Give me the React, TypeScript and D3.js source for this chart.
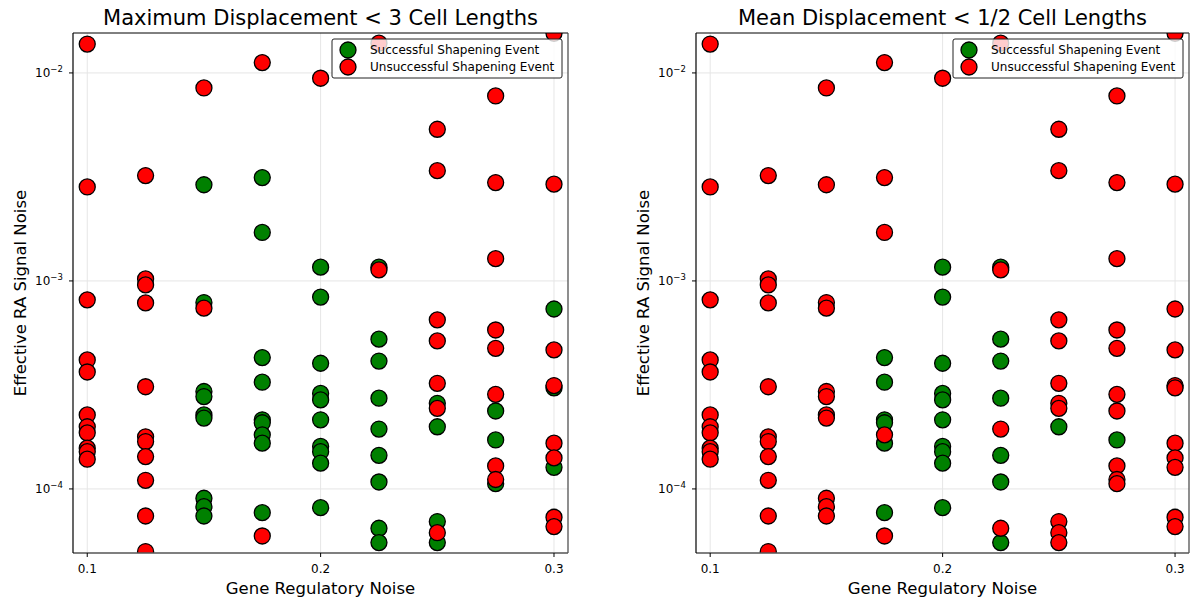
import React from "react";
import * as d3 from "d3";

// gene regulatory noise levels (x) and the RA signal noise values measured at each
const geneNoise = [0.1, 0.125, 0.15, 0.175, 0.2, 0.225, 0.25, 0.275, 0.3];

const signalNoise: number[][] = [
  [0.01377, 2.83e-3, 8.11e-4, 4.17e-4, 3.65e-4, 2.27e-4, 1.99e-4, 1.86e-4, 1.57e-4, 1.51e-4, 1.39e-4],
  [3.21e-3, 1.023e-3, 9.57e-4, 7.84e-4, 3.1e-4, 1.78e-4, 1.69e-4, 1.43e-4, 1.1e-4, 7.41e-5, 5.0e-5],
  [8.47e-3, 2.9e-3, 7.87e-4, 7.4e-4, 2.94e-4, 2.78e-4, 2.27e-4, 2.19e-4, 9.02e-5, 8.22e-5, 7.41e-5],
  [0.01121, 3.14e-3, 1.71e-3, 4.28e-4, 3.26e-4, 2.15e-4, 2.08e-4, 1.82e-4, 1.66e-4, 7.69e-5, 5.94e-5],
  [9.43e-3, 1.165e-3, 8.36e-4, 4.02e-4, 2.88e-4, 2.68e-4, 2.15e-4, 1.6e-4, 1.51e-4, 1.33e-4, 8.13e-5],
  [0.0139, 1.165e-3, 1.13e-3, 5.25e-4, 4.12e-4, 2.73e-4, 1.94e-4, 1.45e-4, 1.08e-4, 6.47e-5, 5.52e-5],
  [5.36e-3, 3.39e-3, 6.5e-4, 5.15e-4, 3.22e-4, 2.58e-4, 2.44e-4, 1.99e-4, 6.97e-5, 6.16e-5, 5.52e-5],
  [7.75e-3, 2.97e-3, 1.28e-3, 5.81e-4, 4.74e-4, 2.85e-4, 2.37e-4, 1.72e-4, 1.29e-4, 1.11e-4, 1.06e-4],
  [0.01552, 2.92e-3, 7.33e-4, 4.66e-4, 3.14e-4, 3.06e-4, 1.66e-4, 1.41e-4, 1.27e-4, 7.31e-5, 6.59e-5],
];

// 1 = successful shapening event, same order as signalNoise
const successMaxDisp: number[][] = [
  [0, 0, 0, 0, 0, 0, 0, 0, 0, 0, 0],
  [0, 0, 0, 0, 0, 0, 0, 0, 0, 0, 0],
  [0, 1, 1, 0, 1, 1, 1, 1, 1, 1, 1],
  [0, 1, 1, 1, 1, 1, 1, 1, 1, 1, 0],
  [0, 1, 1, 1, 1, 1, 1, 1, 1, 1, 1],
  [0, 1, 0, 1, 1, 1, 1, 1, 1, 1, 1],
  [0, 0, 0, 0, 0, 1, 0, 1, 1, 0, 1],
  [0, 0, 0, 0, 0, 0, 1, 1, 0, 0, 1],
  [0, 0, 1, 0, 0, 1, 0, 0, 1, 0, 0],
];

const successMeanDisp: number[][] = [
  [0, 0, 0, 0, 0, 0, 0, 0, 0, 0, 0],
  [0, 0, 0, 0, 0, 0, 0, 0, 0, 0, 0],
  [0, 0, 0, 0, 0, 0, 0, 0, 0, 0, 0],
  [0, 0, 0, 1, 1, 1, 1, 0, 1, 1, 0],
  [0, 1, 1, 1, 1, 1, 1, 1, 1, 1, 1],
  [0, 1, 0, 1, 1, 1, 0, 1, 1, 0, 1],
  [0, 0, 0, 0, 0, 0, 0, 1, 0, 0, 0],
  [0, 0, 0, 0, 0, 0, 0, 1, 0, 0, 0],
  [0, 0, 0, 0, 0, 0, 0, 0, 0, 0, 0],
];

const xTicks = [0.1, 0.2, 0.3];
const yTicks = [1e-4, 1e-3, 1e-2];
const titles = ["Maximum Displacement < 3 Cell Lengths", "Mean Displacement < 1/2 Cell Lengths"];
const legendLabels = ["Successful Shapening Event", "Unsuccessful Shapening Event"];

const FONT = "DejaVu Sans, sans-serif";
const GREEN = "#008000";
const RED = "#ff0000";

type Pt = { x: number; y: number; ok: boolean };

function Panel({ left, right, title, flags }: { left: number; right: number; title: string; flags: number[][] }) {
  const top = 33;
  const bottom = 553;

  const x = d3.scaleLinear().domain([0.0939, 0.306]).range([left, right]);
  const y = d3.scaleLog().domain([4.92e-5, 0.01556]).range([bottom, top]);

  const pts: Pt[] = [];
  geneNoise.forEach((g, i) => {
    signalNoise[i].forEach((v, j) => pts.push({ x: g, y: v, ok: flags[i][j] === 1 }));
  });
  const greens = pts.filter((p) => p.ok);
  const reds = pts.filter((p) => !p.ok);
  const clipId = "clip" + left;
  const cx = (left + right) / 2;
  const cy = (top + bottom) / 2;
  const exp = (t: number) => Math.round(Math.log10(t));

  const lgX = right - 236;
  const lgY = top + 6;

  return (
    <g>
      <defs>
        <clipPath id={clipId}>
          <rect x={left} y={top} width={right - left} height={bottom - top} />
        </clipPath>
      </defs>
      {/* grid */}
      {xTicks.map((t) => (
        <line key={"gx" + t} x1={x(t)} x2={x(t)} y1={top} y2={bottom} stroke="#e6e6e6" strokeWidth={1} />
      ))}
      {yTicks.map((t) => (
        <line key={"gy" + t} x1={left} x2={right} y1={y(t)} y2={y(t)} stroke="#e6e6e6" strokeWidth={1} />
      ))}
      {/* points: green series first, red on top */}
      <g clipPath={`url(#${clipId})`}>
        {greens.map((p, k) => (
          <circle key={"g" + k} cx={x(p.x)} cy={y(p.y)} r={8} fill={GREEN} stroke="#000" strokeWidth={1.3} />
        ))}
        {reds.map((p, k) => (
          <circle key={"r" + k} cx={x(p.x)} cy={y(p.y)} r={8} fill={RED} stroke="#000" strokeWidth={1.3} />
        ))}
      </g>
      {/* frame */}
      <line x1={left} x2={right} y1={top} y2={top} stroke="#000" strokeWidth={1} />
      <line x1={right} x2={right} y1={top} y2={bottom} stroke="#444" strokeWidth={1.2} />
      <line x1={left} x2={right} y1={bottom} y2={bottom} stroke="#555" strokeWidth={1.5} />
      <line x1={left} x2={left} y1={top} y2={bottom} stroke="#000" strokeWidth={1.2} />
      {/* x ticks */}
      {xTicks.map((t) => (
        <g key={"xt" + t}>
          <line x1={x(t)} x2={x(t)} y1={bottom} y2={bottom + 4} stroke="#000" strokeWidth={1} />
          <text x={x(t)} y={bottom + 20} textAnchor="middle" fontFamily={FONT} fontSize={12} fill="#000">
            {d3.format(".1f")(t)}
          </text>
        </g>
      ))}
      {/* y ticks */}
      {yTicks.map((t) => (
        <g key={"yt" + t}>
          <line x1={left - 4} x2={left} y1={y(t)} y2={y(t)} stroke="#000" strokeWidth={1} />
          <text x={left - 38} y={y(t) + 4} fontFamily={FONT} fontSize={12} fill="#000">
            10
            <tspan fontSize={8.5} dy={-5}>
              {"\u2212" + Math.abs(exp(t))}
            </tspan>
          </text>
        </g>
      ))}
      {/* titles and labels */}
      <text x={cx} y={25} textAnchor="middle" fontFamily={FONT} fontSize={21} fill="#000">
        {title}
      </text>
      <text x={cx} y={594} textAnchor="middle" fontFamily={FONT} fontSize={16.5} fill="#000">
        Gene Regulatory Noise
      </text>
      <text
        transform={`translate(${left - 47},${cy}) rotate(-90)`}
        textAnchor="middle"
        fontFamily={FONT}
        fontSize={16.5}
        fill="#000"
      >
        Effective RA Signal Noise
      </text>
      {/* legend */}
      <rect x={lgX} y={lgY} width={230} height={39} rx={2} fill="#fff" fillOpacity={0.8} stroke="#222" strokeWidth={1} />
      {legendLabels.map((lab, i) => (
        <g key={lab}>
          <circle cx={lgX + 16} cy={lgY + 11 + i * 17} r={8} fill={i === 0 ? GREEN : RED} stroke="#000" strokeWidth={1.3} />
          <text x={lgX + 38} y={lgY + 15 + i * 17} fontFamily={FONT} fontSize={12} fill="#000">
            {lab}
          </text>
        </g>
      ))}
    </g>
  );
}

export default function App() {
  return (
    <svg
      width={1190}
      height={600}
      style={{ position: "absolute", left: 0, top: 0, background: "#fff" }}
    >
      <rect width={1190} height={600} fill="#fff" />
      <Panel left={73} right={568} title={titles[0]} flags={successMaxDisp} />
      <Panel left={696} right={1189} title={titles[1]} flags={successMeanDisp} />
    </svg>
  );
}
